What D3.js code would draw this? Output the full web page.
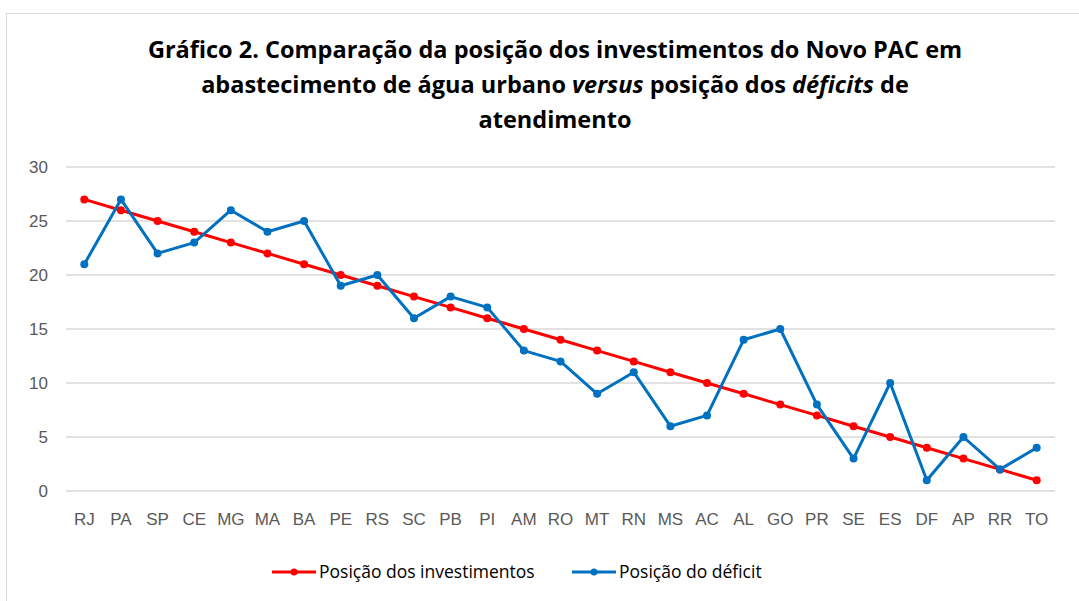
<!DOCTYPE html>
<html>
<meta charset="utf-8">
<title>Gráfico 2</title>
<style>
  body { margin: 0; background: #fff; }
  svg { font-family: "Open Sans", sans-serif; }
  .grid line { stroke: #d9d9d9; stroke-width: 1.3; }
  .axis text { fill: #595959; font-size: 17px; font-family: "Liberation Sans", sans-serif; }
  .title { font-weight: bold; font-size: 23.5px; fill: #000; }
  .legend text { font-size: 17.5px; fill: #000; }
</style>
<body>
<div id="chart"></div>
<script src="https://d3js.org/d3.v7.min.js"></script>
<script>

const estados = ['RJ','PA','SP','CE','MG','MA','BA','PE','RS','SC','PB','PI','AM','RO','MT','RN','MS','AC','AL','GO','PR','SE','ES','DF','AP','RR','TO'];
const investimentos = [27,26,25,24,23,22,21,20,19,18,17,16,15,14,13,12,11,10,9,8,7,6,5,4,3,2,1];
const deficit = [21,27,22,23,26,24,25,19,20,16,18,17,13,12,9,11,6,7,14,15,8,3,10,1,5,2,4];
const yTicks = [0,5,10,15,20,25,30];
const tituloLinhas = [
  [{t:'Gráfico 2. Comparação da posição dos investimentos do Novo PAC em'}],
  [{t:'abastecimento de água urbano '},{t:'versus',i:true},{t:' posição dos '},{t:'déficits',i:true},{t:' de'}],
  [{t:'atendimento'}]
];

const W = 1079, H = 601;
const margin = {top: 167, right: 24, bottom: 110, left: 66};

const svg = d3.select('#chart').append('svg')
  .attr('width', W).attr('height', H);

// moldura
svg.append('rect')
  .attr('x', 6.5).attr('y', 13.5)
  .attr('width', W + 10).attr('height', H)
  .attr('fill', 'none').attr('stroke', '#d9d9d9');

const title = svg.append('text').attr('class', 'title').attr('text-anchor', 'middle');
tituloLinhas.forEach((linha, i) => {
  const tl = title.append('tspan').attr('x', 555).attr('y', 58 + i * 35);
  linha.forEach(p => {
    tl.append('tspan').text(p.t).attr('font-style', p.i ? 'italic' : null);
  });
});

const x = d3.scaleBand().domain(estados).range([margin.left, W - margin.right]);
const y = d3.scaleLinear().domain([0, 30]).range([H - margin.bottom, margin.top]);

svg.append('g').attr('class', 'grid')
  .selectAll('line').data(yTicks).join('line')
  .attr('x1', margin.left).attr('x2', W - margin.right)
  .attr('y1', d => y(d)).attr('y2', d => y(d));

const yAxis = svg.append('g').attr('class', 'axis')
  .attr('transform', `translate(${margin.left - 18},0)`)
  .call(d3.axisLeft(y).tickValues(yTicks).tickSize(0).tickPadding(0));
yAxis.select('.domain').remove();

const xAxis = svg.append('g').attr('class', 'axis')
  .attr('transform', `translate(0,${H - margin.bottom + 17})`)
  .call(d3.axisBottom(x).tickSize(0).tickPadding(5));
xAxis.select('.domain').remove();

const cx = d => x(d) + x.bandwidth() / 2;
const line = d3.line().x((d, i) => cx(estados[i])).y(d => y(d));

const series = [
  {name: 'Posição dos investimentos', values: investimentos, color: '#ff0000'},
  {name: 'Posição do déficit', values: deficit, color: '#0070c0'}
];

series.forEach(s => {
  svg.append('path').datum(s.values)
    .attr('fill', 'none').attr('stroke', s.color)
    .attr('stroke-width', 3).attr('stroke-linejoin', 'round')
    .attr('d', line);
  svg.append('g').selectAll('circle').data(s.values).join('circle')
    .attr('cx', (d, i) => cx(estados[i])).attr('cy', d => y(d))
    .attr('r', 4).attr('fill', s.color);
});

const legX = [272, 572];
const leg = svg.append('g').attr('class', 'legend');
series.forEach((s, i) => {
  const g = leg.append('g').attr('transform', `translate(${legX[i]},572)`);
  g.append('line').attr('x1', 0).attr('x2', 44)
    .attr('stroke', s.color).attr('stroke-width', 3);
  g.append('circle').attr('cx', 22).attr('r', 3.5).attr('fill', s.color);
  g.append('text').attr('x', 47).attr('dy', '0.35em').text(s.name);
});

</script>
</body>
</html>
